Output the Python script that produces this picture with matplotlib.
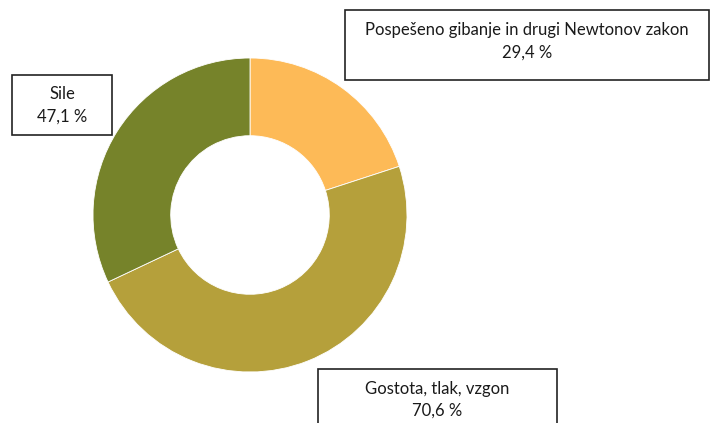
import matplotlib
matplotlib.use("Agg")
import matplotlib.pyplot as plt
from matplotlib.patches import Rectangle
from matplotlib import font_manager

categories = ["Pospešeno gibanje in drugi Newtonov zakon", "Gostota, tlak, vzgon", "Sile"]
values = [29.4, 70.6, 47.1]
labels_pct = ["29,4 %", "70,6 %", "47,1 %"]
colors = ["#FDBA57", "#B5A03B", "#76832A"]

avail = {f.name for f in font_manager.fontManager.ttflist}
fam = "Liberation Sans Narrow" if "Liberation Sans Narrow" in avail else "Lato"
plt.rcParams['font.family'] = [fam, 'DejaVu Sans']

W, H = 713, 423
fig = plt.figure(figsize=(W / 100, H / 100), dpi=100)
ax = fig.add_axes([0, 0, 1, 1])
ax.set_xlim(0, W)
ax.set_ylim(0, H)
ax.axis("off")

cx, cy, r = 250, H - 215, 157
ax.pie(values, colors=colors, startangle=90, counterclock=False,
       center=(cx, cy), radius=r,
       wedgeprops=dict(width=r * 0.495, edgecolor="white", linewidth=0.6))
ax.set_xlim(0, W)
ax.set_ylim(0, H)
ax.set_aspect("equal")

# label boxes: (x0, y0_top, x1, y1_bottom) in pixel coords from top
boxes = [(345, 10, 709, 80), (318, 369, 557, 430), (12, 75, 112, 135)]
text_y = [(30, 53), (389, 411), (94, 117)]
for (x0, y0, x1, y1), (ty1, ty2), cat, pct in zip(boxes, text_y, categories, labels_pct):
    ax.add_patch(Rectangle((x0, H - y1), x1 - x0, y1 - y0, fill=False,
                           edgecolor="#222222", linewidth=1.2, clip_on=False))
    xm = (x0 + x1) / 2
    ax.text(xm, H - ty1, cat, ha="center", va="center", fontsize=12, color="#1a1a1a")
    ax.text(xm, H - ty2, pct, ha="center", va="center", fontsize=12, color="#1a1a1a")

fig.savefig("out.png", dpi=100)
